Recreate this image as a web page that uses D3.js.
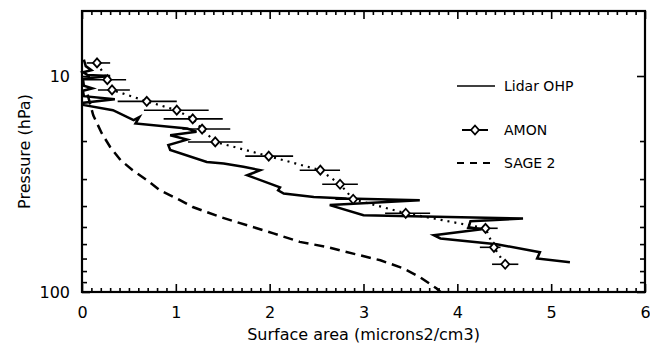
<!DOCTYPE html>
<html>
<head>
<meta charset="utf-8">
<script src="https://cdn.jsdelivr.net/npm/d3@7"></script>
<style>
  body { margin: 0; background: #fff; }
  text { font-family: "DejaVu Sans", sans-serif; fill: #000; }
</style>
</head>
<body>
<div id="graph"></div>
<script>
// Lidar OHP profile: [surface area, pressure hPa]
var lidar = [
  [0.02, 8.4], [0.04, 9.0], [0.10, 9.4], [0.01, 9.6], [0.06, 9.9], [0.30, 10.0],
  [0.01, 10.3], [0.02, 11.1], [0.11, 11.4], [0.01, 11.7], [0.02, 12.4], [0.35, 12.8],
  [0.02, 13.3], [0.01, 13.6], [0.33, 14.4], [0.55, 16.0], [0.61, 15.5], [0.57, 16.6],
  [1.12, 17.5], [1.22, 18.1], [0.94, 18.8], [1.12, 19.7], [0.92, 20.9], [0.94, 22.0],
  [1.33, 25.0], [1.51, 25.4], [1.72, 26.3], [1.90, 27.3], [1.76, 28.8], [2.11, 32.8],
  [2.09, 33.8], [2.15, 35.0], [2.47, 36.3], [2.82, 36.9], [3.60, 37.6], [2.64, 39.6],
  [3.00, 44.1], [4.70, 45.7], [4.14, 47.0], [4.12, 50.1], [4.26, 51.2], [3.75, 54.6],
  [3.82, 56.5], [4.42, 60.1], [4.88, 65.5], [4.85, 70.0], [5.20, 72.8]
];

// AMON points and their horizontal error bars
var amonX  = [0.16, 0.27, 0.32, 0.69, 1.01, 1.18, 1.28, 1.42, 1.99, 2.54, 2.75, 2.89, 3.45, 4.30, 4.39, 4.51];
var amonP  = [8.7, 10.4, 11.6, 13.1, 14.4, 15.8, 17.6, 20.2, 23.5, 27.3, 31.7, 37.2, 43.2, 50.7, 62.1, 74.4];
var amonLo = [0.05, 0.00, 0.17, 0.38, 0.66, 0.87, 1.07, 1.13, 1.74, 2.32, 2.56, 2.70, 3.23, 4.10, 4.24, 4.37];
var amonHi = [0.30, 0.47, 0.51, 1.01, 1.35, 1.50, 1.58, 1.71, 2.25, 2.75, 2.94, 3.09, 3.71, 4.43, 4.46, 4.65];

// SAGE 2 profile
var sage = [
  [0.06, 12.2], [0.12, 15.2], [0.21, 18.4], [0.30, 21.3], [0.41, 24.5], [0.54, 27.3],
  [0.69, 30.3], [0.83, 33.8], [1.01, 36.9], [1.18, 40.4], [1.47, 44.9], [1.76, 49.1],
  [2.04, 53.5], [2.32, 58.6], [2.61, 61.9], [2.89, 66.4], [3.18, 71.3], [3.42, 77.6],
  [3.60, 85.2], [3.78, 96.4], [3.82, 100]
];

var xMajor = [0, 1, 2, 3, 4, 5, 6];
var xMinor = d3.range(0, 60).map(function(i) { return i / 10; }).filter(function(v, i) { return i % 10 != 0; });
var yMajor = [10, 100];
var yMinor = [20, 30, 40, 50, 60, 70, 80, 90];
var legendNames = ["Lidar OHP", "AMON", "SAGE 2"];

var W = 650, H = 343;
var margin = {top: 11, right: 5, bottom: 51, left: 82};
var x = d3.scaleLinear().domain([0, 6]).range([margin.left, W - margin.right]);
var y = d3.scaleLog().domain([5, 100]).range([margin.top, H - margin.bottom]);

var svg = d3.select("#graph").append("svg")
  .attr("width", W).attr("height", H);

var plot = svg.append("g");

function axisStyle(g) {
  g.select(".domain").remove();
  g.selectAll("line").attr("stroke", "#000").attr("stroke-width", 1.6);
  g.selectAll("text").style("font-size", "16px");
}

// bottom axis
svg.append("g").attr("transform", "translate(0," + y(100) + ")")
  .call(d3.axisBottom(x).tickValues(xMajor).tickSize(-8).tickPadding(15).tickFormat(d3.format("d")))
  .call(axisStyle);
svg.append("g").attr("transform", "translate(0," + y(100) + ")")
  .call(d3.axisBottom(x).tickValues(xMinor).tickSize(-4).tickFormat(""))
  .call(axisStyle);
// top axis
svg.append("g").attr("transform", "translate(0," + y(5) + ")")
  .call(d3.axisTop(x).tickValues(xMajor).tickSize(-8).tickFormat(""))
  .call(axisStyle);
svg.append("g").attr("transform", "translate(0," + y(5) + ")")
  .call(d3.axisTop(x).tickValues(xMinor).tickSize(-4).tickFormat(""))
  .call(axisStyle);
// left axis
svg.append("g").attr("transform", "translate(" + x(0) + ",0)")
  .call(d3.axisLeft(y).tickValues(yMajor).tickSize(-8).tickPadding(12).tickFormat(d3.format("d")))
  .call(axisStyle);
svg.append("g").attr("transform", "translate(" + x(0) + ",0)")
  .call(d3.axisLeft(y).tickValues(yMinor).tickSize(-5).tickFormat(""))
  .call(axisStyle);
// right axis
svg.append("g").attr("transform", "translate(" + x(6) + ",0)")
  .call(d3.axisRight(y).tickValues(yMajor).tickSize(-8).tickFormat(""))
  .call(axisStyle);
svg.append("g").attr("transform", "translate(" + x(6) + ",0)")
  .call(d3.axisRight(y).tickValues(yMinor).tickSize(-5).tickFormat(""))
  .call(axisStyle);

// frame
svg.append("rect")
  .attr("x", x(0)).attr("y", y(5))
  .attr("width", x(6) - x(0)).attr("height", y(100) - y(5))
  .attr("fill", "none").attr("stroke", "#000").attr("stroke-width", 2.2);

var line = d3.line()
  .x(function(d) { return x(d[0]); })
  .y(function(d) { return y(d[1]); });

// SAGE 2
plot.append("path").datum(sage)
  .attr("d", line).attr("fill", "none").attr("stroke", "#000")
  .attr("stroke-width", 2.5).attr("stroke-dasharray", "10,6");

// Lidar
plot.append("path").datum(lidar)
  .attr("d", line).attr("fill", "none").attr("stroke", "#000")
  .attr("stroke-width", 2.5).attr("stroke-linejoin", "miter");

// AMON
var amon = amonX.map(function(v, i) { return [v, amonP[i], amonLo[i], amonHi[i]]; });
plot.append("path").datum(amon)
  .attr("d", line).attr("fill", "none").attr("stroke", "#000")
  .attr("stroke-width", 2.2).attr("stroke-dasharray", "2,5");

plot.selectAll("line.err").data(amon).enter().append("line")
  .attr("class", "err")
  .attr("x1", function(d) { return x(d[2]); })
  .attr("x2", function(d) { return x(d[3]); })
  .attr("y1", function(d) { return y(d[1]); })
  .attr("y2", function(d) { return y(d[1]); })
  .attr("stroke", "#000").attr("stroke-width", 1.6);

var diamond = "M0,-4.5L4,0L0,4.5L-4,0Z";
plot.selectAll("path.pt").data(amon).enter().append("path")
  .attr("class", "pt")
  .attr("transform", function(d) { return "translate(" + x(d[0]) + "," + y(d[1]) + ")"; })
  .attr("d", diamond)
  .attr("fill", "#fff").attr("stroke", "#000").attr("stroke-width", 1.8);

// legend
var lg = svg.append("g");
lg.append("line").attr("x1", 457).attr("x2", 495).attr("y1", 86).attr("y2", 86)
  .attr("stroke", "#000").attr("stroke-width", 1.6);
lg.append("line").attr("x1", 462).attr("x2", 488).attr("y1", 130).attr("y2", 130)
  .attr("stroke", "#000").attr("stroke-width", 2);
lg.append("path").attr("d", diamond).attr("transform", "translate(475,130)")
  .attr("fill", "#fff").attr("stroke", "#000").attr("stroke-width", 1.8);
lg.append("line").attr("x1", 457).attr("x2", 493).attr("y1", 163).attr("y2", 163)
  .attr("stroke", "#000").attr("stroke-width", 1.8).attr("stroke-dasharray", "7,6");
lg.selectAll("text").data(legendNames).enter().append("text")
  .attr("x", 504)
  .attr("y", function(d, i) { return [86, 130, 163][i]; })
  .attr("dy", "0.35em")
  .style("font-size", "14px")
  .text(function(d) { return d; });

// axis titles
svg.append("text")
  .attr("x", (x(0) + x(6)) / 2).attr("y", 334).attr("dy", "0.35em")
  .attr("text-anchor", "middle").style("font-size", "16px")
  .text("Surface area (microns2/cm3)");
svg.append("text")
  .attr("transform", "translate(24," + (y(5) + y(100)) / 2 + ") rotate(-90)")
  .attr("dy", "0.35em")
  .attr("text-anchor", "middle").style("font-size", "16px")
  .text("Pressure (hPa)");
</script>
</body>
</html>
